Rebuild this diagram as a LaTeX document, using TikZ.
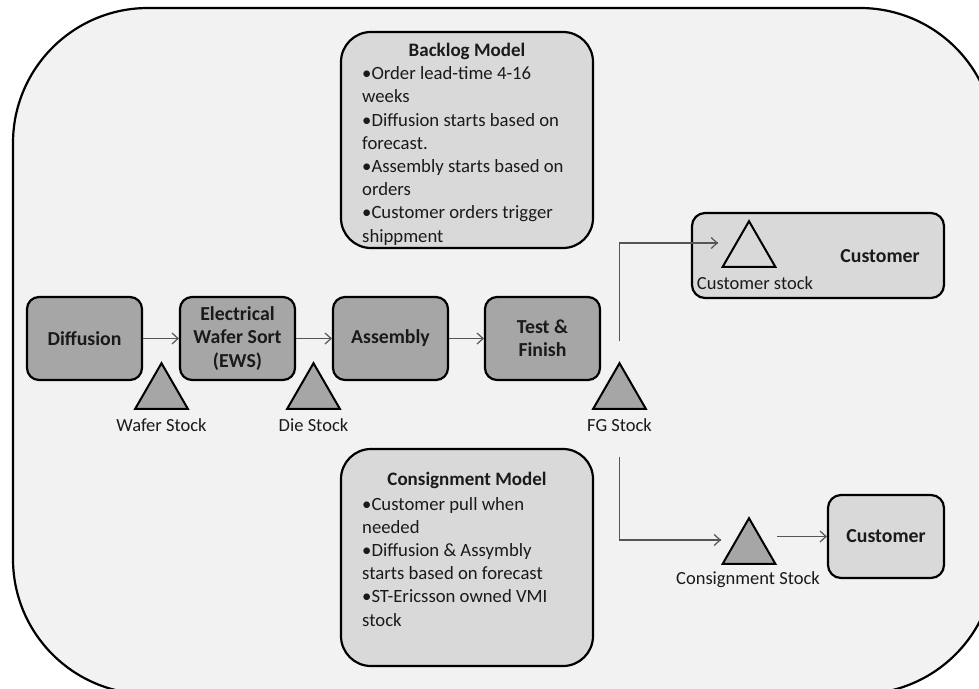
\documentclass[tikz,border=0pt]{standalone}
\usepackage{fontspec}
\setmainfont{Carlito}
\usetikzlibrary{arrows.meta,shapes.geometric}
\definecolor{framefill}{HTML}{F2F2F2}
\definecolor{procfill}{HTML}{A6A6A6}
\definecolor{notefill}{HTML}{D9D9D9}
\definecolor{ink}{HTML}{1A1A1A}
\definecolor{wire}{HTML}{555555}
\begin{document}
\begin{tikzpicture}[x=1pt,y=-1pt,
  every node/.style={text=ink},
  proc/.style={draw=black, line width=2.2pt, fill=procfill, rounded corners=12pt,
    minimum width=115pt, minimum height=83pt, inner sep=0pt, align=center,
    font=\fontsize{19.8}{23.4}\selectfont\bfseries},
  note/.style={draw=black, line width=2.2pt, fill=notefill, rounded corners=30pt,
    minimum width=252pt, inner sep=0pt},
  custbox/.style={draw=black, line width=2.2pt, fill=notefill, rounded corners=13pt,
    inner sep=0pt},
  stock/.style={draw=black, line width=2pt, regular polygon, regular polygon sides=3,
    minimum size=61pt, inner sep=0pt},
  lbl/.style={font=\fontsize{18.5}{22}\selectfont, inner sep=0pt},
  title/.style={font=\fontsize{19}{22}\selectfont\bfseries, inner sep=0pt},
  body/.style={font=\fontsize{18.7}{23.2}\selectfont, inner sep=0pt, align=left},
  arr/.style={draw=wire, line width=1.2pt, -{Straight Barb[length=6pt,width=11pt,line width=1.2pt]}},
  wireline/.style={draw=wire, line width=1.2pt}
]
\useasboundingbox (0,0) rectangle (979,688);

% outer frame, running past the right and bottom edges
\begin{scope}
  \clip (0,0) rectangle (979,688);
  \draw[line width=2.2pt, fill=framefill, rounded corners=135pt] (13,8) rectangle (995,694);
\end{scope}

% notes
\node[note, minimum height=216pt] (backlog) at (467,140) {};
\node[title] (backlogT) at (467,51) {Backlog Model};
\node[body, anchor=north west] (backlogB) at (362,66.5) {%
\textbullet Order lead-time 4-16\\
weeks\\
\textbullet Diffusion starts based on\\
forecast.\\
\textbullet Assembly starts based on\\
orders\\
\textbullet Customer orders trigger\\
shippment};

\node[note, minimum height=217pt] (consign) at (467,557.5) {};
\node[title] (consignT) at (467,480) {Consignment Model};
\node[body, anchor=north west] (consignB) at (362,497) {%
\textbullet Customer pull when\\
needed\\
\textbullet Diffusion \& Assymbly\\
starts based  on forecast\\
\textbullet ST-Ericsson owned VMI\\
stock};

% process chain
\node[proc] (diff) at (84.5,338.5) {Diffusion};
\node[proc] (ews) at (237.5,338.5) {Electrical\\Wafer Sort\\(EWS)};
\node[proc] (asm) at (390.5,338.5) {Assembly};
\node[proc] (tf) at (542.5,338.5) {Test \&\\Finish};

\draw[arr] (diff) -- (ews);
\draw[arr] (ews) -- (asm);
\draw[arr] (asm) -- (tf);

% stock points
\node[stock, fill=procfill] (wafer) at (161.5,393.7) {};
\node[stock, fill=procfill] (die) at (313.5,393.7) {};
\node[stock, fill=procfill] (fg) at (619.5,393.7) {};
\node[lbl] (waferL) at (161.5,425) {Wafer Stock};
\node[lbl] (dieL) at (313.5,425) {Die Stock};
\node[lbl] (fgL) at (619.5,425) {FG Stock};

% customer with own stock
\node[custbox, minimum width=252pt, minimum height=85pt] (cust1) at (818,255.5) {};
\node[stock] (custtri) at (749,251.7) {};
\node[lbl] (custtriL) at (755,283) {Customer stock};
\node[title, font=\fontsize{19.8}{22}\selectfont\bfseries] (cust1T) at (880,256) {Customer};

% consignment customer
\node[stock, fill=procfill] (constri) at (749,548.7) {};
\node[lbl] (constriL) at (748,580) {Consignment Stock};
\node[custbox, minimum width=116pt, minimum height=83pt, font=\fontsize{19.8}{22}\selectfont\bfseries] (cust2) at (886,536.5) {Customer};

% flows out of finished goods
\coordinate (upIn) at (718,243);
\coordinate (lowIn) at (721,540);
\draw[wireline] ([yshift=20pt]fg.corner 1) |- (upIn);
\draw[arr] ([xshift=-2pt]upIn) -- (upIn);
\draw[wireline] ([yshift=-25pt]fgL.south) |- (lowIn);
\draw[arr] ([xshift=-2pt]lowIn) -- (lowIn);
\draw[arr] (constri.corner 3 |- cust2.west) -- (cust2.west);
\end{tikzpicture}
\end{document}
